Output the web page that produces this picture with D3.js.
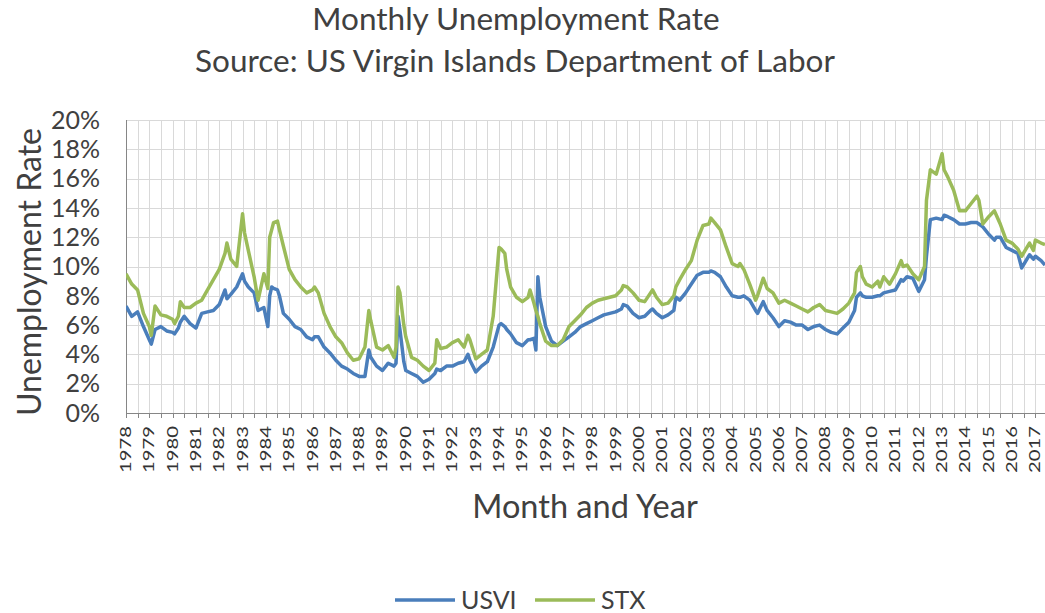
<html>
<head>
<meta charset="utf-8">
<title>Monthly Unemployment Rate</title>
<style>
  body { margin: 0; background: #fff; }
  text { font-family: Lato, "Open Sans", sans-serif; fill: #404040; }
  .grid line { stroke: #d9d9d9; stroke-width: 1; shape-rendering: crispEdges; }
  .axis path, .axis line { stroke: #868686; shape-rendering: crispEdges; }
</style>
<script src="https://cdnjs.cloudflare.com/ajax/libs/d3/7.8.5/d3.min.js"></script>
</head>
<body>
<script>
// sampled months (YYYY-MM) and the two series, in percent
var months = [
  "1978-01","1978-04","1978-07","1978-10","1979-01","1979-02","1979-04","1979-07","1979-10",
  "1980-01","1980-02","1980-04","1980-05","1980-07","1980-10","1981-01","1981-04","1981-07","1981-10",
  "1982-01","1982-04","1982-05","1982-07","1982-10","1983-01","1983-02","1983-04","1983-07","1983-09","1983-12",
  "1984-02","1984-03","1984-04","1984-05","1984-07","1984-08","1984-10","1985-01","1985-04","1985-07","1985-10",
  "1986-01","1986-02","1986-04","1986-07","1986-10","1987-01","1987-04","1987-07","1987-10",
  "1988-01","1988-04","1988-06","1988-07","1988-10","1989-01","1989-04","1989-07","1989-08","1989-09","1989-10","1989-12",
  "1990-01","1990-04","1990-07","1990-10","1991-01","1991-04","1991-05","1991-07","1991-10",
  "1992-01","1992-04","1992-07","1992-09","1992-10","1993-01","1993-04","1993-07","1993-10",
  "1994-01","1994-02","1994-04","1994-05","1994-07","1994-10","1995-01","1995-04","1995-05","1995-07","1995-08","1995-09","1995-10",
  "1996-01","1996-04","1996-07","1996-10","1997-01","1997-04","1997-07","1997-10",
  "1998-01","1998-04","1998-07","1998-10","1999-01","1999-04","1999-05","1999-07","1999-10",
  "2000-01","2000-04","2000-07","2000-08","2000-10","2001-01","2001-04","2001-07","2001-08","2001-10",
  "2002-01","2002-04","2002-07","2002-10","2003-01","2003-02","2003-04","2003-07","2003-10",
  "2004-01","2004-04","2004-05","2004-07","2004-10","2005-01","2005-02","2005-05","2005-07","2005-10",
  "2006-01","2006-04","2006-07","2006-10","2007-01","2007-04","2007-07","2007-10",
  "2008-01","2008-04","2008-07","2008-10","2009-01","2009-04","2009-05","2009-07","2009-08","2009-10",
  "2010-01","2010-04","2010-05","2010-07","2010-10","2011-01","2011-04","2011-05","2011-07","2011-10",
  "2012-01","2012-04","2012-05","2012-07","2012-10","2013-01","2013-02","2013-04","2013-07","2013-10",
  "2014-01","2014-04","2014-07","2014-08","2014-10","2015-01","2015-04","2015-05","2015-07","2015-10",
  "2016-01","2016-04","2016-06","2016-10","2016-12","2017-01","2017-04","2017-06"
];
var usvi = [
  7.3,6.6,6.9,5.9,5.0,4.7,5.7,5.9,5.6,
  5.5,5.4,5.8,6.2,6.6,6.1,5.8,6.8,6.9,7.0,
  7.4,8.4,7.8,8.1,8.6,9.5,9.0,8.6,8.2,7.0,7.2,
  5.9,8.0,8.6,8.5,8.4,8.0,6.8,6.4,5.9,5.7,5.2,
  5.0,5.2,5.2,4.5,4.1,3.6,3.2,3.0,2.7,
  2.5,2.5,4.3,3.8,3.2,2.9,3.4,3.2,3.4,6.6,5.7,3.5,
  2.9,2.7,2.5,2.1,2.3,2.7,3.0,2.9,3.2,
  3.2,3.4,3.5,4.0,3.6,2.8,3.2,3.5,4.5,
  6.0,6.1,5.9,5.7,5.4,4.8,4.6,5.0,5.0,5.1,4.3,9.3,7.9,
  5.9,4.9,4.6,4.9,5.2,5.5,5.9,6.1,
  6.3,6.5,6.7,6.8,6.9,7.1,7.4,7.3,6.8,
  6.5,6.6,7.0,7.1,6.8,6.5,6.7,7.0,7.9,7.7,
  8.2,8.8,9.4,9.6,9.6,9.7,9.6,9.3,8.6,
  8.0,7.9,7.9,8.0,7.7,7.0,6.8,7.6,7.0,6.5,
  5.9,6.3,6.2,6.0,6.0,5.7,5.9,6.0,
  5.7,5.5,5.4,5.8,6.2,7.0,7.9,8.2,8.0,7.9,
  7.9,8.0,8.0,8.2,8.3,8.4,9.1,9.0,9.3,9.2,
  8.3,9.1,10.7,13.2,13.3,13.2,13.5,13.4,13.2,12.9,
  12.9,13.0,13.0,12.9,12.7,12.2,11.8,12.0,12.0,11.3,
  11.1,10.9,9.9,10.8,10.5,10.7,10.4,10.1
];
var stx = [
  9.5,8.8,8.4,6.8,5.9,5.3,7.3,6.7,6.6,
  6.4,6.1,6.6,7.6,7.2,7.2,7.5,7.7,8.4,9.1,
  9.8,10.9,11.6,10.5,10.0,13.6,12.3,11.1,9.3,7.7,9.5,
  8.5,12.0,12.5,13.0,13.1,12.5,11.4,9.8,9.1,8.6,8.2,
  8.4,8.6,8.2,6.8,5.9,5.2,4.8,4.1,3.6,
  3.7,4.5,7.0,6.3,4.5,4.3,4.6,3.8,4.5,8.6,8.2,6.0,
  5.2,3.8,3.6,3.2,2.9,3.4,5.0,4.4,4.5,
  4.8,5.0,4.5,5.3,5.0,3.7,4.0,4.3,6.6,
  11.3,11.2,10.9,9.8,8.6,7.9,7.6,7.9,8.4,7.5,7.0,6.6,6.1,
  4.9,4.6,4.6,5.0,5.9,6.3,6.7,7.2,
  7.5,7.7,7.8,7.9,8.0,8.4,8.7,8.6,8.2,
  7.7,7.6,8.2,8.4,7.9,7.4,7.5,8.0,8.6,9.1,
  9.8,10.4,11.8,12.8,12.9,13.3,13.0,12.5,11.3,
  10.2,10.0,10.2,9.8,8.8,7.7,8.0,9.2,8.5,8.2,
  7.5,7.7,7.5,7.3,7.1,6.9,7.2,7.4,
  7.0,6.9,6.8,7.1,7.5,8.2,9.6,10.0,9.3,8.8,
  8.6,9.0,8.6,9.3,8.8,9.5,10.4,10.0,10.1,9.5,
  9.1,10.0,14.5,16.6,16.3,17.7,16.6,16.1,15.2,13.8,
  13.8,14.3,14.8,14.5,12.9,13.4,13.8,13.5,12.9,11.8,
  11.6,11.2,10.7,11.6,11.1,11.8,11.6,11.5
];
var yearLabels = d3.range(1978, 2018);
var yTicks = d3.range(0, 21, 2);
var seriesNames = ["USVI", "STX"];
var seriesColors = ["#4a7ebb", "#9bbb59"];

var W = 1045, H = 613;
var plot = { left: 126, right: 1045, top: 120, bottom: 413 };

var parse = d3.utcParse("%Y-%m");
var dates = months.map(parse);

var x = d3.scaleUtc()
  .domain([dates[0], dates[dates.length - 1]])
  .range([plot.left, plot.right]);
var y = d3.scaleLinear().domain([0, 20]).range([plot.bottom, plot.top]);

var svg = d3.select("body").append("svg")
  .attr("width", W).attr("height", H);

// gridlines
var halfYears = d3.utcMonth.every(6).range(dates[0], dates[dates.length - 1]);
var grid = svg.append("g").attr("class", "grid");
grid.selectAll(".v").data(halfYears).enter().append("line")
  .attr("x1", function(d) { return Math.round(x(d)) + 0.5; })
  .attr("x2", function(d) { return Math.round(x(d)) + 0.5; })
  .attr("y1", plot.top).attr("y2", plot.bottom);
grid.selectAll(".h").data(yTicks).enter().append("line")
  .attr("x1", plot.left).attr("x2", plot.right)
  .attr("y1", function(d) { return Math.round(y(d)) + 0.5; })
  .attr("y2", function(d) { return Math.round(y(d)) + 0.5; });

// x axis: ticks every 6 months, a label each January
var xAxis = svg.append("g").attr("class", "axis")
  .attr("transform", "translate(0," + plot.bottom + ")")
  .call(d3.axisBottom(x).tickValues(halfYears).tickSize(5).tickSizeOuter(0).tickFormat(""));
xAxis.select(".domain").attr("d", "M" + plot.left + ",0.5H" + plot.right);

svg.append("g").selectAll("text").data(yearLabels).enter().append("text")
  .attr("transform", function(d) {
    return "translate(" + (x(parse(d + "-01")) + 5) + ",473) rotate(-90)";
  })
  .attr("textLength", 47).attr("lengthAdjust", "spacingAndGlyphs")
  .style("font-size", "14.5px")
  .style("fill", "#333")
  .text(function(d) { return d; });

// y axis labels
svg.append("g").selectAll("text").data(yTicks).enter().append("text")
  .attr("x", 100).attr("y", function(d) { return y(d); })
  .attr("dy", "0.35em").attr("text-anchor", "end")
  .style("font-size", "25px")
  .text(function(d) { return d + "%"; });

svg.append("line")
  .attr("x1", plot.left + 0.5).attr("x2", plot.left + 0.5)
  .attr("y1", plot.top).attr("y2", plot.bottom)
  .attr("stroke", "#868686").attr("shape-rendering", "crispEdges");

// lines
svg.append("clipPath").attr("id", "clip").append("rect")
  .attr("x", plot.left).attr("y", plot.top - 10)
  .attr("width", plot.right - plot.left).attr("height", plot.bottom - plot.top + 10);

var line = d3.line()
  .x(function(d, i) { return x(dates[i]); })
  .y(function(d) { return y(d); });

[usvi, stx].forEach(function(s, k) {
  svg.append("path")
    .datum(s)
    .attr("clip-path", "url(#clip)")
    .attr("fill", "none")
    .attr("stroke", seriesColors[k])
    .attr("stroke-width", 3.5)
    .attr("stroke-linejoin", "round")
    .attr("d", line);
});

// titles
svg.append("text").attr("x", 516).attr("y", 30).attr("text-anchor", "middle")
  .style("font-size", "31.5px").text("Monthly Unemployment Rate");
svg.append("text").attr("x", 515).attr("y", 72).attr("text-anchor", "middle")
  .style("font-size", "31.5px").text("Source: US Virgin Islands Department of Labor");
svg.append("text").attr("x", 585).attr("y", 518).attr("text-anchor", "middle")
  .style("font-size", "32.5px").text("Month and Year");
svg.append("text")
  .attr("transform", "translate(41,272) rotate(-90)")
  .attr("text-anchor", "middle")
  .style("font-size", "32px").text("Unemployment Rate");

// legend
var legendX = [395, 535];
var legend = svg.append("g").selectAll("g").data(seriesNames).enter().append("g")
  .attr("transform", function(d, i) { return "translate(" + legendX[i] + ",600)"; });
legend.append("line")
  .attr("x1", 0).attr("x2", 60)
  .attr("stroke", function(d, i) { return seriesColors[i]; })
  .attr("stroke-width", 3.5);
legend.append("text")
  .attr("x", 66).attr("dy", "0.35em")
  .style("font-size", "25px")
  .text(function(d) { return d; });
</script>
</body>
</html>
